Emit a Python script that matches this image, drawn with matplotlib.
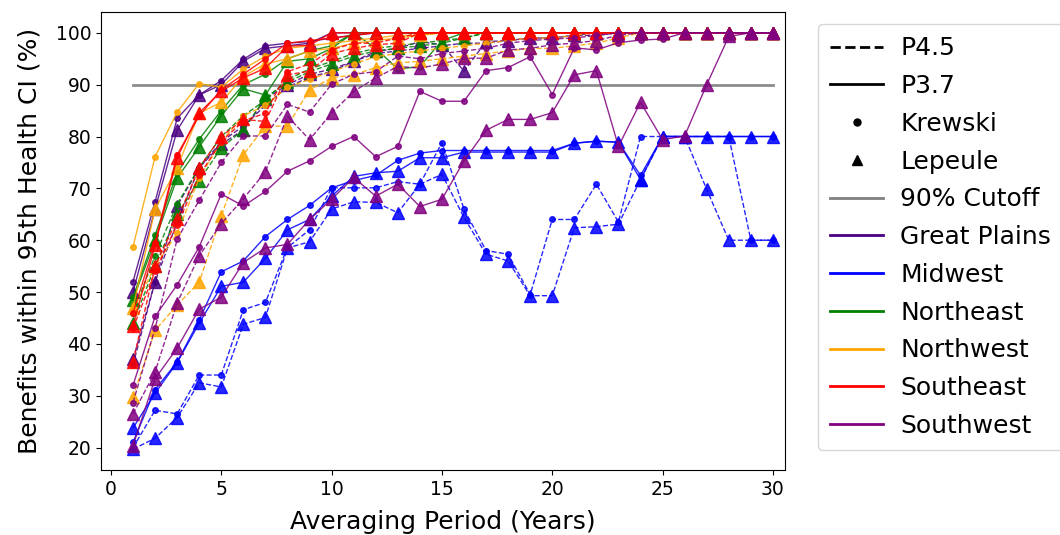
import matplotlib
matplotlib.use("Agg")
import matplotlib.pyplot as plt
from matplotlib.lines import Line2D

years = list(range(1, 31))

# Great Plains
gp_k37 = [52, 67.4, 83.5, 88, 90.8, 94.9, 97.5, 98, 98.3, 99, 99.5, 100, 100, 100, 100,
          100, 100, 100, 100, 100, 100, 100, 100, 100, 100, 100, 100, 100, 100, 100]
gp_l37 = [50, 66, 81.2, 88, 90, 94.5, 97, 97.5, 98, 100, 100, 100, 100, 100, 100,
          100, 100, 100, 100, 100, 100, 100, 100, 100, 100, 100, 100, 100, 100, 100]
gp_k45 = [36, 52, 63.5, 74, 79, 82, 86, 89.5, 91.5, 92.5, 94.5, 96, 96.5, 97, 97.5,
          98, 98, 98.5, 99, 99, 99.5, 99.5, 100, 100, 100, 100, 100, 100, 100, 100]
gp_l45 = [37, 52, 66.6, 74, 78.5, 81.3, 87.2, 90, 92, 93, 94.5, 96.4, 97, 98.3, 97.7,
          92.6, 98.3, 98.5, 99, 99, 99.5, 100, 100, 100, 100, 100, 100, 100, 100, 100]

# Midwest
mw_k37 = [21, 31.2, 36.5, 44.6, 53.9, 56, 60.7, 64, 66.7, 70.1, 71.5, 72.5, 75.4, 76.8, 77.3,
          77.3, 77.3, 77.3, 77.3, 77.3, 78.7, 79.1, 78.9, 72.5, 80, 80, 80, 80, 80, 80]
mw_l37 = [23.8, 30.5, 36.4, 44, 51.1, 51.9, 56.5, 62, 64, 68.5, 72.3, 73, 73.3, 75.9, 75.9,
          77, 77, 77, 77, 77, 78.7, 79.1, 78.9, 71.7, 80, 80, 80, 80, 80, 80]
mw_k45 = [20, 27.2, 26.5, 34, 34, 46.6, 48, 58.6, 62, 70.1, 70.1, 70.1, 71.3, 70.8, 78.8,
          66, 58, 57.3, 49.5, 64, 64, 70.8, 63.5, 80, 80, 80, 80, 80, 60, 60]
mw_l45 = [19.7, 21.8, 25.8, 32.5, 31.7, 43.8, 45.1, 58.5, 59.7, 66, 67.4, 67.3, 65.3, 70.8, 72.7,
          64.4, 57.3, 56, 49.3, 49.3, 62.4, 62.6, 63.1, 71.7, 80, 80, 69.8, 60, 60, 60]

# Northeast
ne_k37 = [49, 61, 73, 79.5, 85, 90, 92, 95, 96.5, 97.5, 100, 97, 93, 93.5, 98.5,
          100, 100, 100, 100, 100, 100, 100, 100, 100, 100, 100, 100, 100, 100, 100]
ne_l37 = [48.5, 60, 72, 78, 84, 89.2, 88, 94.5, 95, 97, 100, 100, 100, 100, 100,
          100, 100, 100, 100, 100, 100, 100, 100, 100, 100, 100, 100, 100, 100, 100]
ne_k45 = [46, 57, 67, 74, 80, 84, 87, 91, 93, 94.5, 96, 97, 97.5, 98, 98.5,
          99, 100, 100, 100, 100, 100, 100, 100, 100, 100, 100, 100, 100, 100, 100]
ne_l45 = [44, 55, 65, 71.5, 77.8, 81.3, 87.5, 90.5, 92.5, 94, 95.5, 96.5, 97, 97.5, 98,
          99, 100, 100, 100, 100, 100, 100, 100, 100, 100, 100, 100, 100, 100, 100]

# Northwest
nw_k37 = [58.7, 76.1, 84.7, 90.2, 89.5, 93, 95.5, 97, 97.5, 98, 98.5, 99, 99.5, 99.5, 100,
          100, 100, 100, 100, 100, 100, 100, 100, 100, 100, 100, 100, 100, 100, 100]
nw_l37 = [47, 66, 74, 84.5, 86.6, 91.6, 94, 95, 96.5, 97, 98, 98.5, 99, 99.5, 100,
          100, 100, 100, 100, 100, 100, 100, 100, 100, 100, 100, 100, 100, 100, 100]
nw_k45 = [46.5, 55, 61.3, 72, 79, 84, 86, 89.5, 91, 92.5, 94, 95.4, 96, 96.5, 97,
          97.5, 98, 98.5, 99, 99, 99.5, 100, 100, 100, 100, 100, 100, 100, 100, 100]
nw_l45 = [29.8, 42.6, 47.5, 51.9, 64.7, 76.5, 82, 82, 89, 91.3, 91.9, 93.3, 94.2, 94.5, 95,
          95.5, 96, 96.5, 97, 97, 97.5, 98, 99, 100, 100, 100, 100, 100, 100, 100]

# Southeast
se_k37 = [46, 59.5, 76.5, 84, 89, 92, 95, 98, 98.5, 99, 99.5, 100, 100, 100, 100,
          100, 100, 100, 100, 100, 100, 100, 100, 100, 100, 100, 100, 100, 100, 100]
se_l37 = [43.5, 59, 75.9, 84.6, 88.7, 91.3, 93.2, 97.4, 97.6, 100, 100, 100, 100, 100, 100,
          100, 100, 100, 100, 100, 100, 100, 100, 100, 100, 100, 100, 100, 100, 100]
se_k45 = [43, 54, 63, 72.5, 79, 83, 84.5, 92.5, 94, 96.7, 98, 98, 99, 100, 100,
          100, 100, 100, 100, 100, 100, 100, 100, 100, 100, 100, 100, 100, 100, 100]
se_l45 = [36.5, 55, 64, 74, 80, 83.3, 82.9, 91.9, 92.6, 96, 97, 97.7, 98, 100, 100,
          100, 100, 100, 100, 100, 100, 100, 100, 100, 100, 100, 100, 100, 100, 100]

# Southwest
sw_k37 = [32, 45.3, 51.4, 58.7, 68.9, 66.6, 69.4, 73.3, 75.3, 78.1, 80, 76.1, 78.1, 88.7, 86.8,
          86.8, 92.7, 93.3, 95.4, 88.1, 97.1, 96.7, 98.1, 98.6, 98.8, 100, 100, 100, 100, 100]
sw_l37 = [20.4, 33.3, 39.2, 46.7, 49, 55.7, 58.5, 59.2, 64, 67.9, 72.1, 68.5, 70.8, 66.5, 67.9,
          75.3, 81.2, 83.3, 83.3, 84.6, 91.9, 92.7, 78.1, 86.6, 79.4, 80.1, 90, 99.3, 100, 100]
sw_k45 = [28.7, 43, 60.2, 67.7, 75, 80.1, 80.1, 86.2, 84.7, 90.1, 92, 92.5, 95.5, 95, 96,
          96.5, 97, 98, 98.5, 98.8, 99, 99.5, 100, 100, 100, 100, 100, 100, 100, 100]
sw_l45 = [26.5, 34.6, 47.9, 57, 63.2, 68, 73.2, 83.9, 79.4, 84.5, 88.7, 91.3, 93.5, 93.2, 94,
          95.1, 95.1, 96.7, 97, 97.7, 98, 98.5, 99.5, 100, 100, 100, 100, 100, 100, 100]

regions = ['Great Plains', 'Midwest', 'Northeast', 'Northwest', 'Southeast', 'Southwest']
colors = ['#4B0082', 'blue', 'green', 'orange', 'red', 'purple']
series = {
    'Great Plains': (gp_k45, gp_l45, gp_k37, gp_l37),
    'Midwest': (mw_k45, mw_l45, mw_k37, mw_l37),
    'Northeast': (ne_k45, ne_l45, ne_k37, ne_l37),
    'Northwest': (nw_k45, nw_l45, nw_k37, nw_l37),
    'Southeast': (se_k45, se_l45, se_k37, se_l37),
    'Southwest': (sw_k45, sw_l45, sw_k37, sw_l37),
}
cutoff = 90

fig = plt.figure(figsize=(10.6, 5.35), dpi=100)
ax = fig.add_axes([0.0953, 0.1215, 0.6453, 0.8561])

ax.plot([years[0], years[-1]], [cutoff, cutoff], color='grey', lw=2, alpha=0.9)

for reg, col in zip(regions, colors):
    k45, l45, k37, l37 = series[reg]
    ax.plot(years, k45, color=col, ls='--', lw=1, marker='o', ms=4, alpha=0.85)
    ax.plot(years, l45, color=col, ls='--', lw=1, marker='^', ms=9, alpha=0.85)
    ax.plot(years, k37, color=col, ls='-', lw=1, marker='o', ms=4, alpha=0.85)
    ax.plot(years, l37, color=col, ls='-', lw=1, marker='^', ms=9, alpha=0.85)

ax.set_xlim(-0.45, 30.55)
ax.set_xticks([0, 5, 10, 15, 20, 25, 30])
ax.set_yticks(range(20, 101, 10))
ax.tick_params(labelsize=13.5)
ax.set_xlabel('Averaging Period (Years)', fontsize=18, labelpad=8)
ax.set_ylabel('Benefits within 95th Health CI (%)', fontsize=18, labelpad=10)

handles = [
    Line2D([], [], color='black', ls='--', lw=2, label='P4.5'),
    Line2D([], [], color='black', ls='-', lw=2, label='P3.7'),
    Line2D([], [], color='black', ls='', marker='o', ms=5, label='Krewski'),
    Line2D([], [], color='black', ls='', marker='^', ms=7, label='Lepeule'),
    Line2D([], [], color='grey', lw=2, label='90% Cutoff'),
]
for reg, col in zip(regions, colors):
    handles.append(Line2D([], [], color=col, lw=2, label=reg))

ax.legend(handles=handles, loc='upper left', bbox_to_anchor=(1.048, 0.974),
          borderaxespad=0, borderpad=0.5, fontsize=18, handlelength=2.1,
          handletextpad=0.7, labelspacing=0.55)

fig.savefig('out.png', dpi=100)
